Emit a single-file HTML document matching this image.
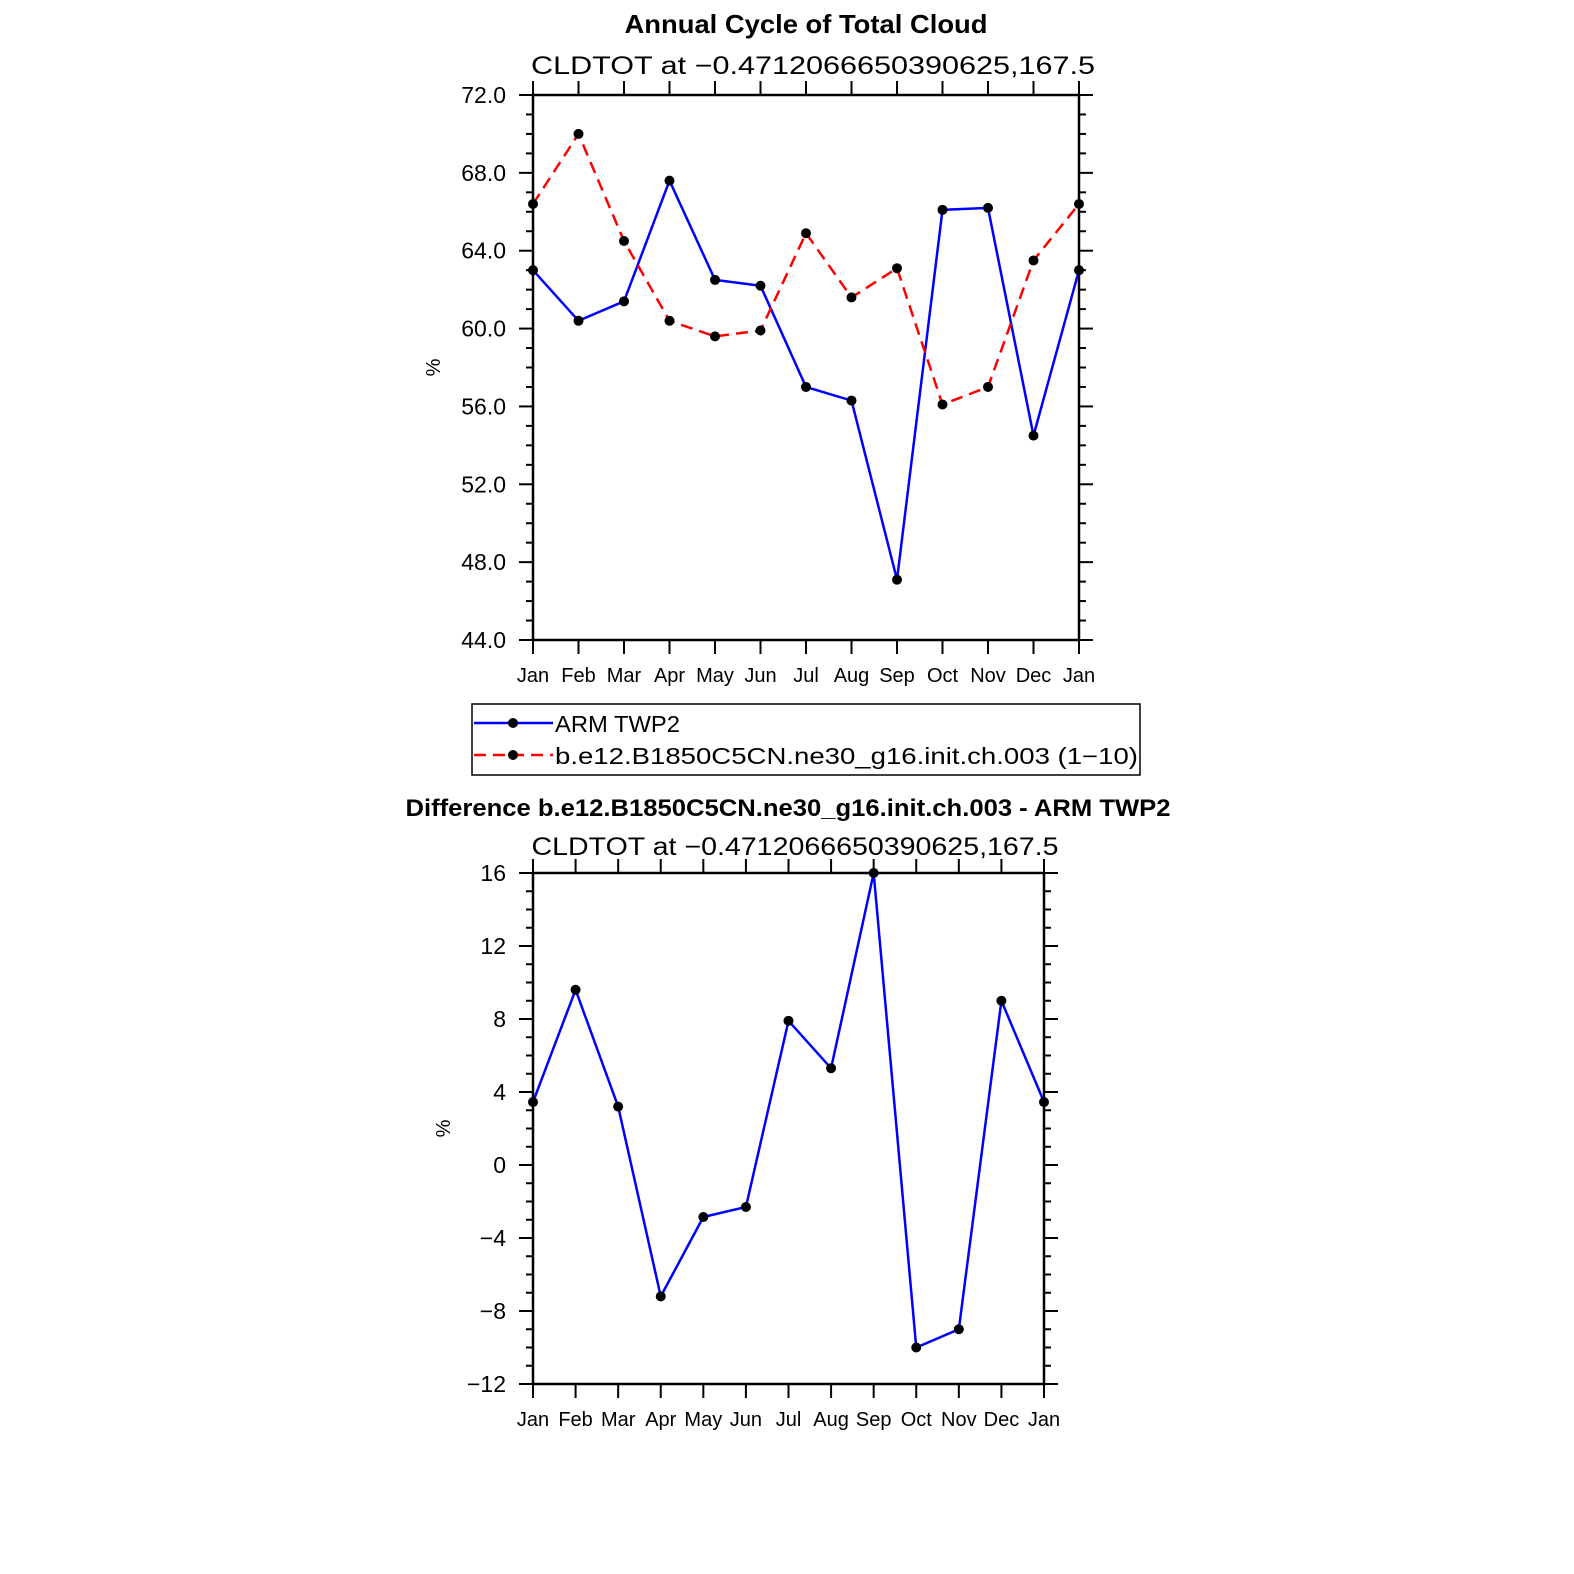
<!DOCTYPE html>
<html><head><meta charset="utf-8"><style>
html,body{margin:0;padding:0;background:#fff;width:1574px;height:1574px;overflow:hidden}
svg text{font-family:"Liberation Sans","DejaVu Sans",sans-serif}
</style></head><body>
<svg id="chart" width="1574" height="1574" xmlns="http://www.w3.org/2000/svg"></svg>
<script>
const months=["Jan","Feb","Mar","Apr","May","Jun","Jul","Aug","Sep","Oct","Nov","Dec","Jan"];
const armValues=[63.0,60.4,61.4,67.6,62.5,62.2,57.0,56.3,47.1,66.1,66.2,54.5,63.0];
const modelValues=[66.4,70.0,64.5,60.4,59.6,59.9,64.9,61.6,63.1,56.1,57.0,63.5,66.4];
const diffValues=[3.45,9.6,3.2,-7.2,-2.85,-2.3,7.9,5.3,16.0,-10.0,-9.0,9.0,3.45];
const topTicks=["44.0","48.0","52.0","56.0","60.0","64.0","68.0","72.0"];
const botTicks=["\u221212","\u22128","\u22124","0","4","8","12","16"];
const NS="http://www.w3.org/2000/svg";
const svg=document.getElementById('chart');
function el(tag,attrs,parent){const e=document.createElementNS(NS,tag);for(const k in attrs)e.setAttribute(k,attrs[k]);(parent||svg).appendChild(e);return e;}
function txt(x,y,s,size,anchor,weight,name,len){const t=el('text',{x:x,y:y,'font-size':size,'text-anchor':anchor||'middle','font-weight':weight||'normal'});t.textContent=s;
if(len){t.setAttribute('textLength',len);t.setAttribute('lengthAdjust','spacingAndGlyphs');}


return t;}
function panel(o){
  const g=el('g',{});
  
  
  const xs=i=>o.x0+(o.x1-o.x0)*i/12;
  const ys=v=>o.y1-(v-o.vmin)*(o.y1-o.y0)/(o.vmax-o.vmin);
  el('rect',{x:o.x0,y:o.y0,width:o.x1-o.x0,height:o.y1-o.y0,fill:'none',stroke:'#000','stroke-width':2.5},g);
  for(let v=o.vmin;v<=o.vmax;v+=1){const maj=((v-o.vmin)%4===0);const L=maj?14:7;const y=ys(v);
    el('line',{x1:o.x0-L,y1:y,x2:o.x0,y2:y,stroke:'#000','stroke-width':2},g);
    el('line',{x1:o.x1,y1:y,x2:o.x1+L,y2:y,stroke:'#000','stroke-width':2},g);}
  o.ticks.forEach((s,i)=>{const v=o.vmin+4*i;txt(o.x0-27,ys(v)+8,s,23,'end','normal','y-tick-label');});
  months.forEach((m,i)=>{const x=xs(i);
    el('line',{x1:x,y1:o.y1,x2:x,y2:o.y1+14,stroke:'#000','stroke-width':2},g);
    el('line',{x1:x,y1:o.y0-14,x2:x,y2:o.y0,stroke:'#000','stroke-width':2},g);
    txt(x,o.y1+42,m,20,'middle','normal','x-tick-label');});
  o.series.forEach(sr=>{
    const pts=sr.vals.map((v,i)=>xs(i)+','+ys(v)).join(' ');
    const pl=el('polyline',{points:pts,fill:'none',stroke:sr.color,'stroke-width':2.5,'stroke-dasharray':sr.dash||'none'},g);
    
    
    sr.vals.forEach((v,i)=>{const c=el('circle',{cx:xs(i),cy:ys(v),r:5,fill:'#000'},g);
      
      });
  });
  const yl=txt(0,0,'%',20,'middle','normal','y-axis-title');
  yl.setAttribute('transform','translate('+(o.ylx)+','+((o.y0+o.y1)/2)+') rotate(-90)');
}
txt(806,33,'Annual Cycle of Total Cloud',26,'middle','bold','top-title',363);
txt(813,74,'CLDTOT at \u22120.4712066650390625,167.5',25,'middle','normal','top-subtitle',564);
panel({name:'top-panel',x0:533,x1:1079,y0:95,y1:640,vmin:44,vmax:72,ticks:topTicks,ylx:440,
  series:[{vals:armValues,color:'#0000ff',name:'arm-line'},{vals:modelValues,color:'#ff0000',dash:'12 7',name:'model-line'}]});
const lg=el('rect',{x:472,y:704,width:668,height:71,fill:'#fff',stroke:'#000','stroke-width':1.5});


el('line',{x1:474,y1:723,x2:553,y2:723,stroke:'#0000ff','stroke-width':2.5});
el('circle',{cx:513,cy:723,r:5,fill:'#000'});
txt(555,732,'ARM TWP2',23,'start','normal','legend-entry-arm',125);
el('line',{x1:474,y1:755,x2:553,y2:755,stroke:'#ff0000','stroke-width':2.5,'stroke-dasharray':'12 7'});
el('circle',{cx:513,cy:755,r:5,fill:'#000'});
txt(555,764,'b.e12.B1850C5CN.ne30_g16.init.ch.003 (1\u221210)',23,'start','normal','legend-entry-model',583);
txt(788,816,'Difference b.e12.B1850C5CN.ne30_g16.init.ch.003 - ARM TWP2',24,'middle','bold','bottom-title',765);
txt(795,855,'CLDTOT at \u22120.4712066650390625,167.5',25,'middle','normal','bottom-subtitle',527);
panel({name:'bottom-panel',x0:533,x1:1044,y0:873,y1:1384,vmin:-12,vmax:16,ticks:botTicks,ylx:450,
  series:[{vals:diffValues,color:'#0000ff',name:'difference-line'}]});
</script>
</body></html>
